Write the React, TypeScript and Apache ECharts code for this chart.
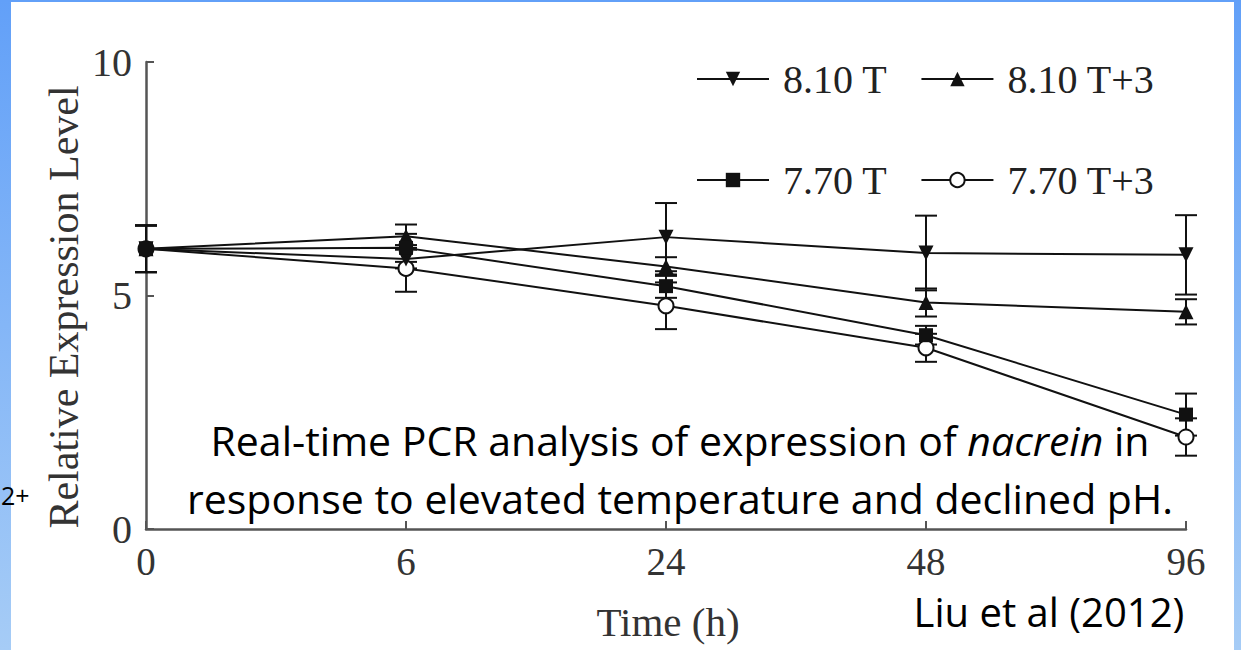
import React, { useEffect, useRef } from "react";
import * as echarts from "echarts";

const categories = ["0", "6", "24", "48", "96"];
const yTicks = [0, 5, 10];

const seriesNames = ["8.10 T", "8.10 T+3", "7.70 T", "7.70 T+3"];
const s810T = [6.0, 5.78, 6.25, 5.91, 5.87];
const s810T3 = [6.0, 6.27, 5.62, 4.85, 4.65];
const s770T = [6.0, 6.02, 5.2, 4.15, 2.45];
const s770T3 = [6.0, 5.58, 4.78, 3.88, 1.97];

const e810T = [0.5, 0.2, 0.73, 0.8, 0.85];
const e810T3 = [0.5, 0.25, 0.2, 0.3, 0.27];
const e770T = [0.5, 0.3, 0.25, 0.2, 0.45];
const e770T3 = [0.5, 0.5, 0.5, 0.3, 0.4];

const captionLine1 = "Real-time PCR analysis of expression of {i|nacrein} in";
const captionLine2 = "response to elevated temperature and declined pH.";
const citation = "Liu et al (2012)";
const yName = "Relative Expression Level";
const xName = "Time (h)";

const SERIF = "Liberation Serif";
const SANS = "Open Sans";

export default function App() {
  const ref = useRef<HTMLDivElement>(null);

  useEffect(() => {
    if (!ref.current) return;
    const chart = echarts.init(ref.current, null, { renderer: "svg" });

    const values = [s810T, s810T3, s770T, s770T3];
    const errors = [e810T, e810T3, e770T, e770T3];
    const symbols = ["triangle", "triangle", "rect", "emptyCircle"];
    const rotations = [180, 0, 0, 0];
    const sizes = [15, 15, 14, 15];
    const zOrder = [4, 5, 6, 3];

    const lineSeries = values.map((v, k) => ({
      name: seriesNames[k],
      type: "line",
      data: v,
      symbol: symbols[k],
      symbolRotate: rotations[k],
      symbolSize: sizes[k],
      showAllSymbol: true,
      z: zOrder[k],
      lineStyle: { color: "#111", width: 2 },
      itemStyle: {
        color: "#111",
        borderColor: "#111",
        borderWidth: symbols[k] === "emptyCircle" ? 1.5 : 0,
      },
    }));

    const errSeries = values.map((v, k) => ({
      name: "err" + k,
      type: "custom",
      z: 2,
      encode: { x: 0, y: [1, 2] },
      data: v.map((y, i) => [i, y - errors[k][i], y + errors[k][i]]),
      renderItem: (params: any, api: any) => {
        const xi = api.value(0);
        const lo = api.coord([xi, api.value(1)]);
        const hi = api.coord([xi, api.value(2)]);
        const hw = 11;
        const st = { stroke: "#111", lineWidth: 2 };
        return {
          type: "group",
          children: [
            { type: "line", shape: { x1: lo[0], y1: lo[1], x2: hi[0], y2: hi[1] }, style: st },
            { type: "line", shape: { x1: lo[0] - hw, y1: lo[1], x2: lo[0] + hw, y2: lo[1] }, style: st },
            { type: "line", shape: { x1: hi[0] - hw, y1: hi[1], x2: hi[0] + hw, y2: hi[1] }, style: st },
          ],
        };
      },
    }));

    const legendCommon = {
      left: 696,
      orient: "horizontal",
      itemWidth: 72,
      itemHeight: 18,
      itemGap: 33,
      padding: 0,
      selectedMode: false,
      textStyle: { fontFamily: SERIF, fontSize: 40, color: "#222", padding: [0, 0, 0, 9] },
    };

    const blueGrad = new echarts.graphic.LinearGradient(0, 0, 0, 1, [
      { offset: 0, color: "#62a0f8" },
      { offset: 1, color: "#a6ccf6" },
    ]);

    chart.setOption({
      animation: false,
      backgroundColor: "#fff",
      grid: { left: 146, right: 55, top: 62, bottom: 121, containLabel: false },
      legend: [
        { ...legendCommon, top: 59, data: [seriesNames[0], seriesNames[1]] },
        { ...legendCommon, top: 160, data: [seriesNames[2], seriesNames[3]] },
      ],
      xAxis: {
        type: "category",
        data: categories,
        boundaryGap: false,
        axisLine: { lineStyle: { color: "#555", width: 2.5 } },
        axisTick: { inside: true, length: 8, lineStyle: { color: "#555", width: 2 } },
        axisLabel: { fontFamily: SERIF, fontSize: 39, color: "#333", margin: 13 },
        splitLine: { show: false },
      },
      yAxis: {
        type: "value",
        min: yTicks[0],
        max: yTicks[yTicks.length - 1],
        interval: 5,
        axisLine: { show: true, lineStyle: { color: "#555", width: 2.5 } },
        axisTick: { show: true, inside: true, length: 8, lineStyle: { color: "#555", width: 2 } },
        axisLabel: { fontFamily: SERIF, fontSize: 40, color: "#333", margin: 14 },
        splitLine: { show: false },
      },
      series: [...errSeries, ...lineSeries],
      graphic: [
        { type: "rect", shape: { x: 0, y: 0, width: 11, height: 650 }, style: { fill: blueGrad }, z: 100 },
        { type: "rect", shape: { x: 1234, y: 0, width: 7, height: 650 }, style: { fill: blueGrad }, z: 100 },
        { type: "rect", shape: { x: 0, y: 0, width: 1241, height: 2 }, style: { fill: "#62a0f8" }, z: 100 },
        {
          type: "text",
          x: 64,
          y: 307,
          rotation: Math.PI / 2,
          style: {
            text: yName,
            font: `42px "${SERIF}"`,
            fill: "#333",
            textAlign: "center",
            textVerticalAlign: "middle",
          },
        },
        {
          type: "text",
          x: 668,
          y: 622,
          style: {
            text: xName,
            font: `41px "${SERIF}"`,
            fill: "#333",
            textAlign: "center",
            textVerticalAlign: "middle",
          },
        },
        {
          type: "text",
          x: 680,
          y: 469,
          z: 50,
          style: {
            text: captionLine1 + "\n" + captionLine2,
            fontFamily: SANS,
            fontSize: 41,
            lineHeight: 58,
            fill: "#000",
            textAlign: "center",
            textVerticalAlign: "middle",
            rich: {
              i: { fontFamily: SANS, fontSize: 41, fontStyle: "italic", lineHeight: 58, fill: "#000" },
            },
          },
        },
        {
          type: "text",
          x: 1049,
          y: 611,
          style: {
            text: citation,
            fontFamily: SANS,
            fontSize: 40,
            fill: "#000",
            textAlign: "center",
            textVerticalAlign: "middle",
          },
        },
        {
          type: "text",
          x: 1,
          y: 495,
          z: 101,
          style: {
            text: "2+",
            fontFamily: SANS,
            fontSize: 25,
            fill: "#000",
            textAlign: "left",
            textVerticalAlign: "middle",
          },
        },
      ],
    });

    return () => chart.dispose();
  }, []);

  return (
    <div
      ref={ref}
      style={{ position: "absolute", left: 0, top: 0, width: 1241, height: 650 }}
    />
  );
}
